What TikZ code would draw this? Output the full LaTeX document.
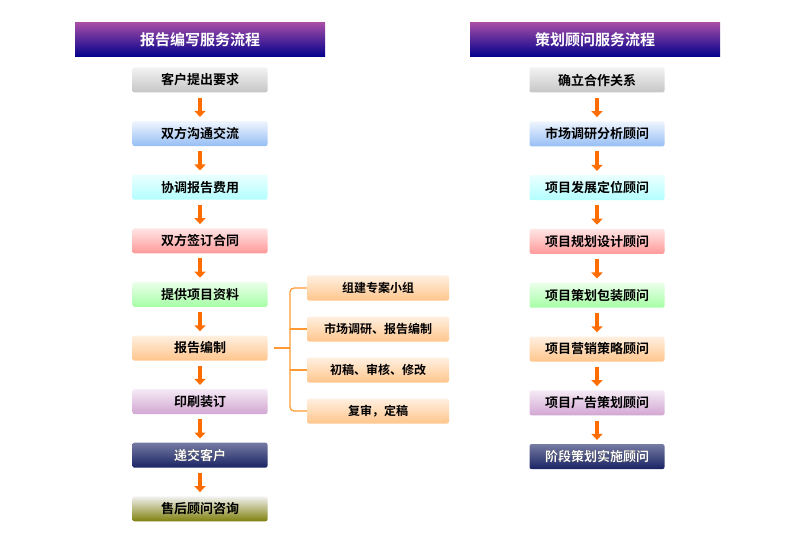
\documentclass[tikz,border=0pt]{standalone}
\usepackage{fontspec}
\setmainfont{Noto Sans CJK SC}[BoldFont={* Bold}]
\usetikzlibrary{positioning,arrows.meta}
\definecolor{skyb}{RGB}{150,190,245}
\definecolor{navyb}{RGB}{25,35,100}
\tikzset{
  flowbox/.style={rounded corners=2pt, minimum width=135pt, minimum height=25pt,
    font=\bfseries\fontsize{13}{13}\selectfont, inner sep=0pt},
  sub/.style={flowbox, minimum width=142pt, top color=orange!12, bottom color=orange!45,
    font=\bfseries\fontsize{12}{12}\selectfont},
  head/.style={minimum width=250pt, minimum height=34pt, top color=violet!70,
    bottom color=blue!55!black, text=white, font=\bfseries\fontsize{15}{15}\selectfont},
  flow/.style={-{Triangle[width=11pt,length=6pt]}, line width=4pt, orange!85!red, shorten <=5pt, shorten >=4pt},
  brace/.style={orange!80, line width=1.2pt},
}
\begin{document}
\begin{tikzpicture}[x=1pt,y=-1pt]
	\useasboundingbox (0,0) rectangle (800,545);
	%headers
	\node[head] (hl) at (200,40) {报告编写服务流程};
	\node[head] (hr) at (595,40) {策划顾问服务流程};
	%left column
	\foreach \t/\ct/\cb [count=\i, evaluate=\i as \y using 80+53.6*(\i-1)] in
	  {客户提出要求/gray!10/gray!45, 双方沟通交流/skyb!15/skyb, 协调报告费用/cyan!8/cyan!30,
	   双方签订合同/red!10/red!40, 提供项目资料/green!8/green!35, 报告编制/orange!12/orange!45,
	   印刷装订/violet!8/violet!35, 递交客户/navyb!60/navyb, 售后顾问咨询/gray!10/olive!45!gray}
		\node[flowbox, top color=\ct, bottom color=\cb] (l\i) at (200,\y) {\t};
	\node[text=white, font=\bfseries\fontsize{13}{13}\selectfont] at (l8) {递交客户};
	\foreach \i [count=\j from 2] in {1,...,8}
		\draw[flow] (l\i) -- (l\j);
	%right column
	\foreach \t/\ct/\cb [count=\i, evaluate=\i as \y using 80+53.8*(\i-1)] in
	  {确立合作关系/gray!10/gray!45, 市场调研分析顾问/skyb!15/skyb, 项目发展定位顾问/cyan!8/cyan!30,
	   项目规划设计顾问/red!10/red!40, 项目策划包装顾问/green!8/green!35, 项目营销策略顾问/orange!12/orange!45,
	   项目广告策划顾问/violet!8/violet!35, 阶段策划实施顾问/navyb!60/navyb}
		\node[flowbox, top color=\ct, bottom color=\cb] (r\i) at (597,\y) {\t};
	\node[text=white, font=\bfseries\fontsize{13}{13}\selectfont] at (r8) {阶段策划实施顾问};
	\foreach \i [count=\j from 2] in {1,...,7}
		\draw[flow] (r\i) -- (r\j);
	%sub steps of l6
	\foreach \t [count=\i, evaluate=\i as \y using 288+41*(\i-1)] in
	  {组建专案小组,市场调研、报告编制,初稿、审核、修改,复审，定稿}
		\node[sub] (s\i) at (378,\y) {\t};
	\coordinate (bm) at (290,0 |- l6);
	\draw[brace] ([xshift=6pt]l6.east) -- (bm);
	\draw[brace, rounded corners=4pt] (s1.west) -| (bm) |- (s4.west);
	\foreach \i in {2,3}
		\draw[brace] (s\i.west) -- (s\i.west -| bm);
\end{tikzpicture}
\end{document}
